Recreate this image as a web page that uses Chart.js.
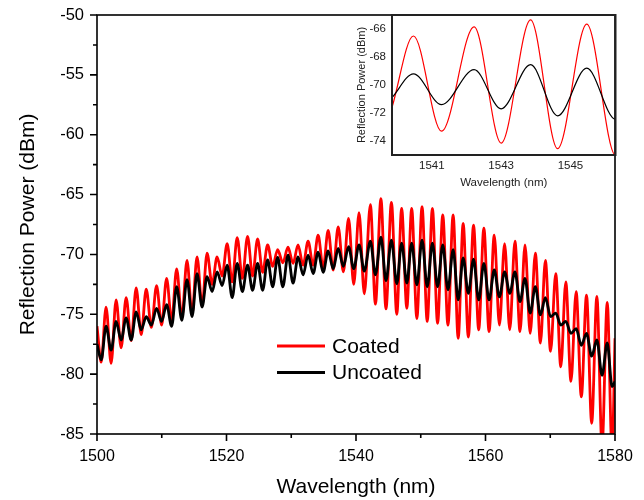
<!DOCTYPE html>
<html><head><meta charset="utf-8">
<script src="https://cdn.jsdelivr.net/npm/chart.js@4.4.0/dist/chart.umd.min.js"></script>
<style>
html,body{margin:0;padding:0;background:#fff;}
#wrap{position:relative;width:644px;height:500px;overflow:hidden;}
#main{position:absolute;left:0;top:0;}
#inset{position:absolute;left:330px;top:0;}
</style></head><body>
<div id="wrap"><canvas id="main" width="644" height="500"></canvas><canvas id="inset" width="290" height="195"></canvas></div>
<script>
// Wavelength (nm) of each read extremum (peaks and troughs of the fringes)
const wavelength = [1500, 1500.65,
 1501.4, 1502.18, 1502.95, 1503.73, 1504.5, 1505.28, 1506.05, 1506.83, 1507.6, 1508.4,
 1509.2, 1509.98, 1510.75, 1511.53, 1512.3, 1513.1, 1513.9, 1514.68, 1515.45, 1516.23,
 1517.0, 1517.78, 1518.55, 1519.33, 1520.1, 1520.88, 1521.65, 1522.45, 1523.25, 1524.03,
 1524.8, 1525.58, 1526.35, 1527.13, 1527.9, 1528.7, 1529.5, 1530.28, 1531.05, 1531.83,
 1532.6, 1533.38, 1534.15, 1534.93, 1535.7, 1536.48, 1537.25, 1538.05, 1538.85, 1539.65,
 1540.47, 1541.28, 1542.22, 1543.0, 1543.85, 1544.63, 1545.47, 1546.3, 1547.05, 1547.85,
 1548.6, 1549.4, 1550.2, 1551.0, 1551.8, 1552.6, 1553.4, 1554.2, 1555.0, 1555.78,
 1556.55, 1557.35, 1558.15, 1558.95, 1559.75, 1560.55, 1561.35, 1562.15, 1562.95, 1563.75,
 1564.55, 1565.33, 1566.1, 1566.9, 1567.7, 1568.48, 1569.25, 1570.05, 1570.85, 1571.63,
 1572.4, 1573.2, 1574.0, 1574.8, 1575.6, 1576.4, 1577.2, 1578.0, 1578.8, 1579.55, 1580];

// Coated fibre reflection (dBm)
const coated = [-76.0, -79.0,
 -74.4, -79.1, -73.8, -77.8, -73.6, -77.2, -72.8, -76.7, -72.9, -76.1,
 -72.6, -75.9, -72.0, -75.6, -71.2, -75.3, -70.5, -75.0, -70.2, -74.3,
 -69.9, -72.5, -70.2, -71.8, -69.1, -72.3, -68.6, -72.0, -68.5, -71.8,
 -68.7, -71.5, -69.2, -71.0, -69.6, -70.7, -69.4, -70.75, -69.2, -70.9,
 -68.9, -70.9, -68.4, -71.15, -68.0, -71.3, -67.7, -71.45, -67.0, -72.5,
 -66.5, -73.3, -65.85, -74.15, -65.35, -74.55, -65.65, -75.0, -66.15, -74.5,
 -66.15, -75.35, -66.0, -75.6, -66.15, -75.75, -66.7, -75.9, -66.7, -77.0,
 -67.4, -76.9, -67.55, -76.3, -67.8, -76.45, -68.4, -75.9, -69.1, -76.3,
 -68.9, -76.45, -69.2, -76.6, -69.9, -77.4, -70.5, -78.1, -71.6, -79.4,
 -72.3, -80.6, -73.1, -81.9, -73.4, -84.1, -73.5, -86.0, -74.0, -86.5, -77.0];

// Uncoated fibre reflection (dBm)
const uncoated = [-77.5, -78.8,
 -76.0, -78.0, -75.6, -77.15, -75.3, -77.15, -74.8, -76.3, -75.2, -75.9,
 -74.5, -75.6, -74.2, -76.0, -72.7, -75.5, -72.1, -75.2, -71.6, -74.4,
 -71.85, -73.1, -71.45, -72.6, -70.9, -73.6, -70.75, -73.1, -70.9, -73.0,
 -70.75, -73.0, -70.45, -72.7, -70.25, -72.7, -70.05, -72.4, -70.2, -71.7,
 -70.05, -71.6, -69.8, -71.5, -69.7, -71.2, -69.5, -71.0, -69.35, -71.2,
 -69.2, -71.4, -68.9, -71.7, -68.55, -72.2, -68.8, -72.45, -69.05, -72.4,
 -69.05, -72.55, -68.8, -72.7, -69.05, -72.7, -69.2, -72.95, -69.6, -73.8,
 -70.3, -73.25, -70.4, -73.8, -70.75, -73.8, -71.3, -73.55, -71.45, -73.25,
 -71.45, -73.95, -72.0, -74.9, -72.7, -75.05, -73.6, -75.2, -74.9, -75.9,
 -75.6, -76.6, -76.2, -77.6, -76.6, -78.5, -77.15, -80.1, -77.4, -81.05, -80.6];

const seriesNames = ['Coated', 'Uncoated'];
const xTicksMain = [1500, 1520, 1540, 1560, 1580];
const xMinorMain = [1510, 1530, 1550, 1570];
const yTicksMain = [-85, -80, -75, -70, -65, -60, -55, -50];
const yMinorMain = [-82.5, -77.5, -72.5, -67.5, -62.5, -57.5, -52.5];
const xTicksInset = [1541, 1543, 1545];
const yTicksInset = [-74, -72, -70, -68, -66];

const FONT = "'Liberation Sans', Arial, sans-serif";
const pts = ys => wavelength.map((x, i) => ({x: x, y: ys[i]}));
const noPad = s => { s.paddingTop = 0; s.paddingBottom = 0; s.paddingLeft = 0; s.paddingRight = 0; };

const framePlugin = {
  id: 'frame',
  afterDatasetsDraw(chart, args, o) {
    const {ctx, chartArea: a, scales} = chart;
    ctx.save();
    ctx.strokeStyle = o.color; ctx.lineWidth = o.width;
    ctx.strokeRect(a.left, a.top, a.right - a.left, a.bottom - a.top);
    if (o.ticks) {
      const xs = scales.x, ys = scales.y;
      ctx.beginPath();
      o.xMajor.forEach(v => { const p = xs.getPixelForValue(v); ctx.moveTo(p, a.bottom); ctx.lineTo(p, a.bottom + o.major); });
      o.xMinor.forEach(v => { const p = xs.getPixelForValue(v); ctx.moveTo(p, a.bottom); ctx.lineTo(p, a.bottom + o.minor); });
      o.yMajor.forEach(v => { const p = ys.getPixelForValue(v); ctx.moveTo(a.left, p); ctx.lineTo(a.left - o.major, p); });
      o.yMinor.forEach(v => { const p = ys.getPixelForValue(v); ctx.moveTo(a.left, p); ctx.lineTo(a.left - o.minor, p); });
      ctx.stroke();
    }
    ctx.restore();
  }
};

const legendPlugin = {
  id: 'inLegend',
  afterDraw(chart, args, o) {
    const {ctx} = chart;
    ctx.save();
    ctx.font = '21px ' + FONT;
    ctx.textBaseline = 'middle';
    chart.data.datasets.forEach((ds, i) => {
      const y = o.y + i * o.gap;
      ctx.strokeStyle = ds.borderColor; ctx.lineWidth = 3;
      ctx.beginPath(); ctx.moveTo(o.x, y); ctx.lineTo(o.x + o.len, y); ctx.stroke();
      ctx.fillStyle = '#000';
      ctx.fillText(ds.label, o.x + o.len + 7, y + 1);
    });
    ctx.restore();
  }
};

new Chart(document.getElementById('main'), {
  type: 'line',
  data: {datasets: [
    {label: seriesNames[0], data: pts(coated), borderColor: '#ff0000', borderWidth: 2.8, pointRadius: 0, cubicInterpolationMode: 'monotone', order: 2},
    {label: seriesNames[1], data: pts(uncoated), borderColor: '#000000', borderWidth: 2.8, pointRadius: 0, cubicInterpolationMode: 'monotone', order: 1}
  ]},
  options: {
    responsive: false, animation: false, devicePixelRatio: 1,
    layout: {padding: {top: 15, right: 29, left: 0, bottom: 0}},
    plugins: {
      legend: {display: false}, tooltip: {enabled: false},
      frame: {color: '#000', width: 1.6, ticks: true, major: 7, minor: 4, xMajor: xTicksMain, xMinor: xMinorMain, yMajor: yTicksMain, yMinor: yMinorMain},
      inLegend: {x: 277, y: 346, gap: 26.5, len: 48}
    },
    scales: {
      x: {type: 'linear', min: 1500, max: 1580,
        afterBuildTicks: s => { s.ticks = xTicksMain.map(v => ({value: v})); },
        afterFit: s => { s.height = 66; noPad(s); },
        grid: {display: false, drawTicks: false}, border: {display: false},
        ticks: {font: {family: FONT, size: 16}, color: '#000', padding: 13, maxRotation: 0, autoSkip: false, callback: v => String(v)},
        title: {display: true, text: 'Wavelength (nm)', font: {family: FONT, size: 21}, color: '#000', padding: {top: 0, bottom: 0}}
      },
      y: {type: 'linear', min: -85, max: -50,
        afterBuildTicks: s => { s.ticks = yTicksMain.map(v => ({value: v})); },
        afterFit: s => { s.width = 97; noPad(s); },
        grid: {display: false, drawTicks: false}, border: {display: false},
        ticks: {font: {family: FONT, size: 16.5}, color: '#000', padding: 13, autoSkip: false, callback: v => String(v)},
        title: {display: true, text: 'Reflection Power (dBm)', font: {family: FONT, size: 21}, color: '#000', padding: {top: 16, bottom: 0}}
      }
    }
  },
  plugins: [framePlugin, legendPlugin]
});

new Chart(document.getElementById('inset'), {
  type: 'line',
  data: {datasets: [
    {label: seriesNames[0], data: pts(coated), borderColor: '#ff0000', borderWidth: 1.2, pointRadius: 0, cubicInterpolationMode: 'monotone', order: 2},
    {label: seriesNames[1], data: pts(uncoated), borderColor: '#000000', borderWidth: 1.2, pointRadius: 0, cubicInterpolationMode: 'monotone', order: 1}
  ]},
  options: {
    responsive: false, animation: false, devicePixelRatio: 1,
    layout: {padding: {top: 15, right: 4.5, left: 0, bottom: 0}},
    plugins: {legend: {display: false}, tooltip: {enabled: false},
      frame: {color: '#222', width: 2, ticks: false}},
    scales: {
      x: {type: 'linear', min: 1539.85, max: 1546.3,
        afterBuildTicks: s => { s.ticks = xTicksInset.map(v => ({value: v})); },
        afterFit: s => { s.height = 40; noPad(s); },
        grid: {display: false, drawTicks: false}, border: {display: false},
        ticks: {font: {family: FONT, size: 11.5}, color: '#222', padding: 4, maxRotation: 0, autoSkip: false, callback: v => String(v)},
        title: {display: true, text: 'Wavelength (nm)', font: {family: FONT, size: 11.5}, color: '#222', padding: {top: 0, bottom: 5}}
      },
      y: {type: 'linear', min: -75, max: -65,
        afterBuildTicks: s => { s.ticks = yTicksInset.map(v => ({value: v})); },
        afterFit: s => { s.width = 62; noPad(s); },
        grid: {display: false, drawTicks: false}, border: {display: false},
        ticks: {font: {family: FONT, size: 11.5}, color: '#222', padding: 6, autoSkip: false, callback: v => String(v)},
        title: {display: true, text: 'Reflection Power (dBm)', font: {family: FONT, size: 11}, color: '#222', padding: {top: 25, bottom: 0}}
      }
    }
  },
  plugins: [framePlugin]
});
</script>
</body></html>
